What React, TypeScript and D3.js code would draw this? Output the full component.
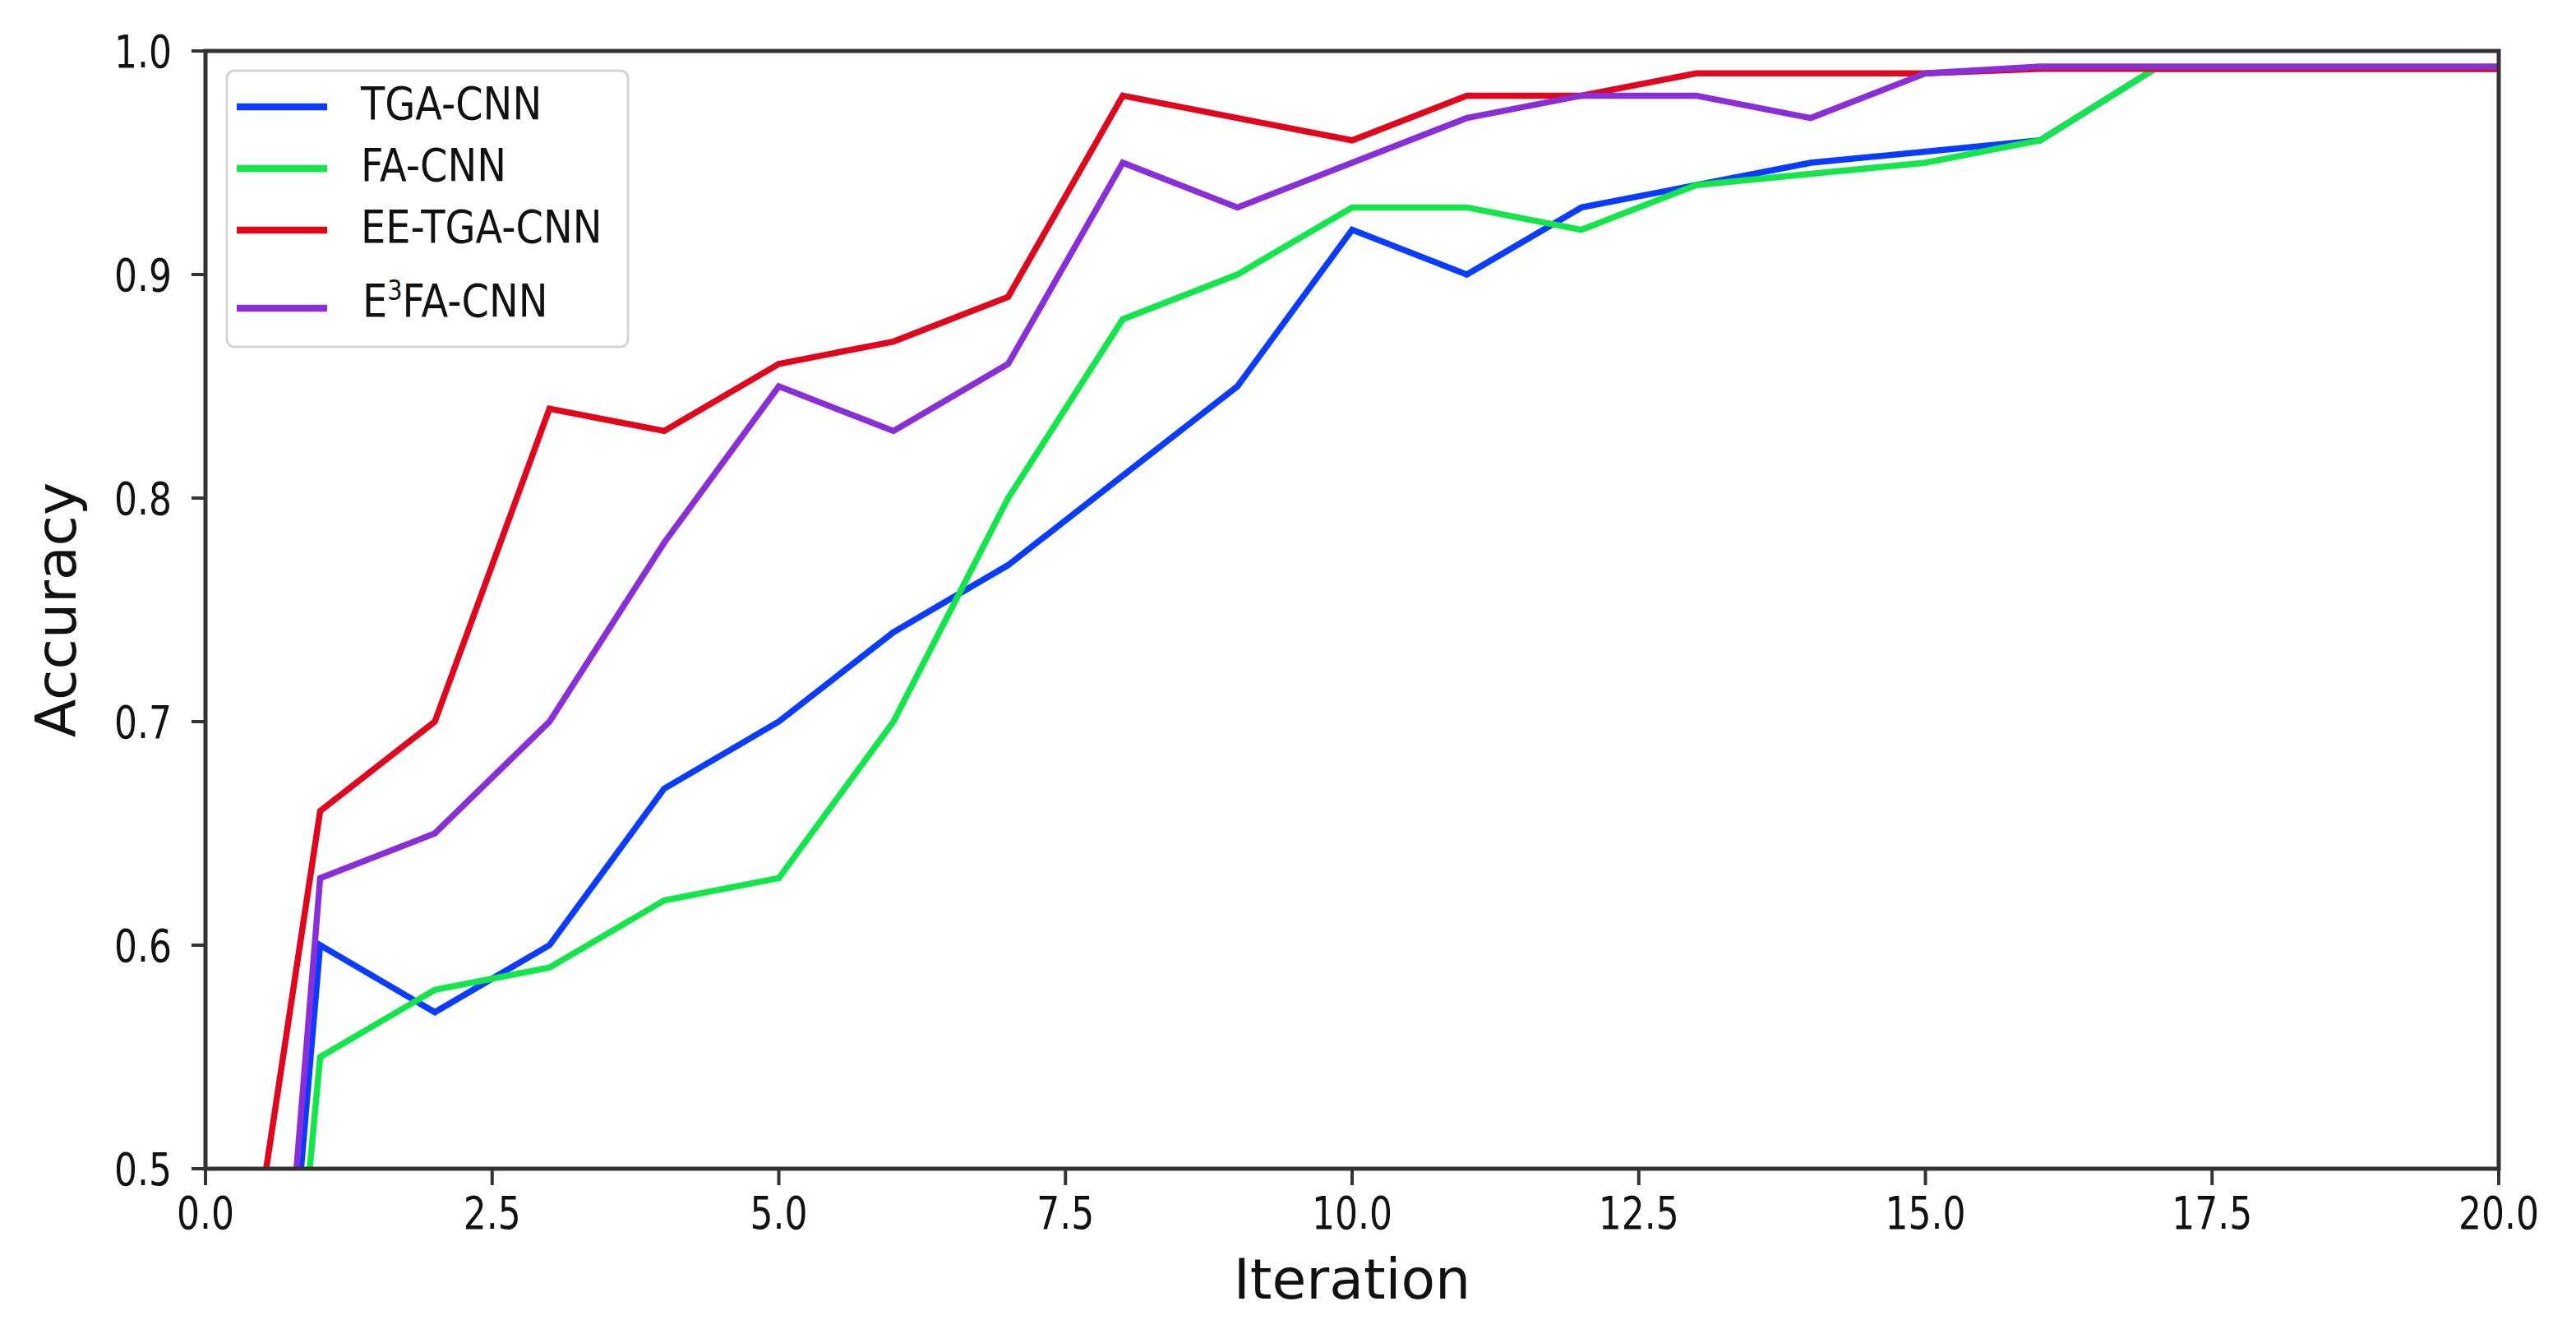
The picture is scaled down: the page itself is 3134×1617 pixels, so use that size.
import React from "react";
import * as d3 from "d3";

const iterations = [0, 1, 2, 3, 4, 5, 6, 7, 8, 9, 10, 11, 12, 13, 14, 15, 16, 17, 18, 19, 20];
const tgaCnn = [0, 0.60, 0.57, 0.60, 0.67, 0.70, 0.74, 0.77, 0.81, 0.85, 0.92, 0.90, 0.93, 0.94, 0.95, 0.955, 0.96, 0.992, 0.992, 0.992, 0.992];
const faCnn = [0, 0.55, 0.58, 0.59, 0.62, 0.63, 0.70, 0.80, 0.88, 0.90, 0.93, 0.93, 0.92, 0.94, 0.945, 0.95, 0.96, 0.992, 0.992, 0.992, 0.992];
const eeTgaCnn = [0.32, 0.66, 0.70, 0.84, 0.83, 0.86, 0.87, 0.89, 0.98, 0.97, 0.96, 0.98, 0.98, 0.99, 0.99, 0.99, 0.992, 0.992, 0.992, 0.992, 0.992];
const e3FaCnn = [0, 0.63, 0.65, 0.70, 0.78, 0.85, 0.83, 0.86, 0.95, 0.93, 0.95, 0.97, 0.98, 0.98, 0.97, 0.99, 0.993, 0.993, 0.993, 0.993, 0.993];

const seriesNames = ["TGA-CNN", "FA-CNN", "EE-TGA-CNN", "E3FA-CNN"];
const seriesColors = ["#0a3cff", "#12e64a", "#e0061b", "#8a2fd8"];
const xTicks = [0, 2.5, 5, 7.5, 10, 12.5, 15, 17.5, 20];
const yTicks = [0.5, 0.6, 0.7, 0.8, 0.9, 1.0];

const W = 3134;
const H = 1617;
const M = { left: 250, right: 3040, top: 62, bottom: 1422 };

export default function App() {
  const x = d3.scaleLinear().domain([0, 20]).range([M.left, M.right]);
  const y = d3.scaleLinear().domain([0.5, 1.0]).range([M.bottom, M.top]);
  const allSeries = [tgaCnn, faCnn, eeTgaCnn, e3FaCnn];
  const line = d3
    .line<number>()
    .x((_, i) => x(iterations[i]))
    .y((d) => y(d));
  const fmt = d3.format(".1f");
  const axisColor = "#333333";
  const legendRows = [130, 205, 280, 375];
  const legendBase = [145, 220, 295, 385];

  return (
    <svg
      width={W}
      height={H}
      style={{ position: "absolute", left: 0, top: 0, background: "#fff" }}
      fontFamily="DejaVu Sans"
    >
      <defs>
        <clipPath id="plotclip">
          <rect x={M.left} y={M.top} width={M.right - M.left} height={M.bottom - M.top} />
        </clipPath>
      </defs>
      <rect x={0} y={0} width={W} height={H} fill="#fff" />
      <g clipPath="url(#plotclip)">
        {allSeries.map((s, k) => (
          <path
            key={k}
            d={line(s) || ""}
            fill="none"
            stroke={seriesColors[k]}
            strokeWidth={7.5}
            strokeLinejoin="miter"
            strokeLinecap="square"
          />
        ))}
      </g>
      <rect
        x={M.left}
        y={M.top}
        width={M.right - M.left}
        height={M.bottom - M.top}
        fill="none"
        stroke={axisColor}
        strokeWidth={5}
      />
      {xTicks.map((t) => (
        <g key={"x" + t}>
          <line x1={x(t)} x2={x(t)} y1={M.bottom} y2={M.bottom + 20} stroke={axisColor} strokeWidth={4} />
          <text
            transform={`translate(${x(t)},${M.bottom + 73}) scale(0.8,1)`}
            textAnchor="middle"
            fontSize={55}
            fill="#111"
          >
            {fmt(t)}
          </text>
        </g>
      ))}
      {yTicks.map((t) => (
        <g key={"y" + t}>
          <line x1={M.left - 17} x2={M.left} y1={y(t)} y2={y(t)} stroke={axisColor} strokeWidth={4} />
          <text
            transform={`translate(${M.left - 41},${y(t) + 20}) scale(0.8,1)`}
            textAnchor="end"
            fontSize={55}
            fill="#111"
          >
            {fmt(t)}
          </text>
        </g>
      ))}
      <text x={(M.left + M.right) / 2} y={1580} textAnchor="middle" fontSize={68} fill="#111">
        Iteration
      </text>
      <text
        transform={`translate(92,${(M.top + M.bottom) / 2}) rotate(-90)`}
        textAnchor="middle"
        fontSize={68}
        fill="#111"
      >
        Accuracy
      </text>
      <rect x={276} y={86} width={488} height={336} rx={9} fill="#fff" fillOpacity={0.8} stroke="#d4d4d4" strokeWidth={3} />
      {seriesNames.map((name, k) => (
        <g key={name}>
          <line x1={288} x2={398} y1={legendRows[k]} y2={legendRows[k]} stroke={seriesColors[k]} strokeWidth={8.5} />
          <text transform={`translate(${k === 3 ? 441 : 439},${legendBase[k]}) scale(0.87,1)`} fontSize={55} fill="#111">
            {k === 3 ? (
              <>
                <tspan>E</tspan>
                <tspan fontSize={33} dy={-20}>3</tspan>
                <tspan dy={20}>FA-CNN</tspan>
              </>
            ) : (
              name
            )}
          </text>
        </g>
      ))}
    </svg>
  );
}
